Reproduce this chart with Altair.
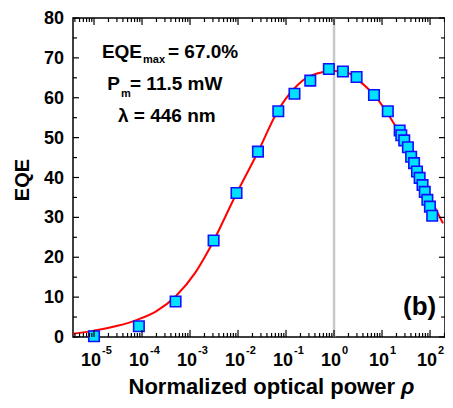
import altair as alt
import pandas as pd

# ---- data ----
rho_pts = [1.0e-5, 8.6e-5, 5.0e-4, 3.1e-3, 9.3e-3, 2.6e-2, 6.9e-2, 0.15, 0.32, 0.78,
           1.53, 2.95, 6.8, 13.2, 23.3, 25.2, 29.0, 34.6, 40.4, 46.5, 53.5, 60.7,
           69.8, 77.7, 88.0, 99.5, 111.0]
eqe_pts = [0.2, 2.7, 8.9, 24.2, 36.1, 46.5, 56.6, 61.0, 64.3, 67.2,
           66.6, 65.2, 60.7, 56.6, 51.8, 50.6, 49.3, 47.6, 45.2, 43.6, 41.5, 39.9,
           38.1, 36.4, 34.4, 32.7, 30.4]

curve_rho = [3.6e-6, 1.0e-5, 3.1e-5, 7.9e-5, 2.0e-4, 5.1e-4, 1.3e-3, 2.5e-3, 9.3e-3,
             2.6e-2, 6.8e-2, 0.145, 0.32, 1.0, 1.8, 3.3, 8.5, 15.8, 25.7, 47.9, 105, 186]
curve_eqe = [0.8, 1.6, 2.8, 4.3, 6.5, 10.3, 16.2, 22.0, 36.0,
             46.4, 56.8, 62.2, 65.5, 66.7, 66.4, 64.3, 59.3, 54.5, 50.3, 44.5, 34.5, 28.5]

x_major = [1e-5, 1e-4, 1e-3, 1e-2, 1e-1, 1e0, 1e1, 1e2]
x_exp = ["-5", "-4", "-3", "-2", "-1", "0", "1", "2"]
x_minor = [m * 10.0 ** k for k in range(-6, 3) for m in range(2, 10)]
y_major = [0, 10, 20, 30, 40, 50, 60, 70, 80]
y_minor = [5, 15, 25, 35, 45, 55, 65, 75]

X_DOM = [3.65e-6, 205]
Y_DOM = [0, 80]
x_minor = [v for v in x_minor if X_DOM[0] < v < X_DOM[1]]

W, H = 372, 319
FONT = "Liberation Sans"

xs = alt.Scale(type="log", domain=X_DOM, nice=False)
ys = alt.Scale(domain=Y_DOM, nice=False, zero=False)

pts = pd.DataFrame({"rho": rho_pts, "eqe": eqe_pts})
crv = pd.DataFrame({"rho": curve_rho, "eqe": curve_eqe})
xmaj = pd.DataFrame({"v": x_major, "e": x_exp, "b": ["10"] * len(x_major)})
xmin = pd.DataFrame({"v": x_minor})
ymaj = pd.DataFrame({"v": y_major, "t": [str(v) for v in y_major]})
ymin = pd.DataFrame({"v": y_minor})

vline = alt.Chart(pd.DataFrame({"r": [1.0], "a": [0], "b": [80]})).mark_rule(
    color="#c8c8c8", strokeWidth=2.5
).encode(
    x=alt.X("r:Q", scale=xs, axis=None),
    y=alt.Y("a:Q", scale=ys, axis=None),
    y2="b:Q",
)

line = alt.Chart(crv).mark_line(color="#ff0000", strokeWidth=2, interpolate="monotone",
                                clip=True).encode(
    x=alt.X("rho:Q", scale=xs, axis=None),
    y=alt.Y("eqe:Q", scale=ys, axis=None),
)

points = alt.Chart(pts).mark_point(
    shape="square", size=110, filled=True, fill="#00e0ff", stroke="#1010ff",
    strokeWidth=1.6, opacity=1
).encode(
    x=alt.X("rho:Q", scale=xs, axis=None),
    y=alt.Y("eqe:Q", scale=ys, axis=None),
)

def xticks(df, length):
    bot = alt.Chart(df).mark_rule(color="black", strokeWidth=1.2).encode(
        x=alt.X("v:Q", scale=xs, axis=None), y=alt.value(H), y2=alt.value(H - length))
    top = alt.Chart(df).mark_rule(color="black", strokeWidth=1.2).encode(
        x=alt.X("v:Q", scale=xs, axis=None), y=alt.value(0), y2=alt.value(length))
    return [bot, top]

def yticks(df, length):
    lft = alt.Chart(df).mark_rule(color="black", strokeWidth=1.2).encode(
        y=alt.Y("v:Q", scale=ys, axis=None), x=alt.value(0), x2=alt.value(length))
    rgt = alt.Chart(df).mark_rule(color="black", strokeWidth=1.2).encode(
        y=alt.Y("v:Q", scale=ys, axis=None), x=alt.value(W), x2=alt.value(W - length))
    return [lft, rgt]

ticks = xticks(xmaj, 7) + xticks(xmin, 4) + yticks(ymaj, 6) + yticks(ymin, 4)

# tick labels (x: 10 with superscript exponent)
xlab_base = alt.Chart(xmaj).mark_text(
    font=FONT, fontSize=18, fontWeight="bold", color="black", align="center",
    baseline="middle", dx=-3
).encode(x=alt.X("v:Q", scale=xs, axis=None), y=alt.value(H + 24), text="b:N")

xlab_exp = alt.Chart(xmaj).mark_text(
    font=FONT, fontSize=11, fontWeight="bold", color="black", align="left",
    baseline="middle", dx=8
).encode(x=alt.X("v:Q", scale=xs, axis=None), y=alt.value(H + 14), text="e:N")

ylab = alt.Chart(ymaj).mark_text(
    font=FONT, fontSize=18, fontWeight="bold", color="black", align="right",
    baseline="middle", dx=-9, dy=1
).encode(y=alt.Y("v:Q", scale=ys, axis=None), x=alt.value(0), text="t:N")

def note(txt, x, y, size=19, align="left", baseline="alphabetic", angle=0, style="normal"):
    return alt.Chart(pd.DataFrame({"t": [txt]})).mark_text(
        font=FONT, fontSize=size, fontWeight="bold", color="black",
        align=align, baseline=baseline, angle=angle, fontStyle=style
    ).encode(x=alt.value(x), y=alt.value(y), text="t:N")

titles = [
    note("EQE", -50, 162, size=20, align="center", baseline="middle", angle=270),
    note("Normalized optical power", 322, H + 57, size=22, align="right"),
    note("ρ", 328, H + 57, size=22, align="left", style="italic"),
]

notes = [
    note("EQE", 69, 40, align="right"),
    note("max", 70, 45, size=11),
    note("= 67.0%", 95, 40),
    note("P", 47, 72, align="right"),
    note("m", 48, 79, size=11),
    note("= 11.5 mW", 57, 72),
    note("λ = 446 nm", 45, 104),
    note("(b)", 330, 297, size=26),
]

chart = alt.layer(vline, line, points, *ticks, xlab_base, xlab_exp, ylab,
                  *titles, *notes).properties(
    width=W, height=H,
    autosize=alt.AutoSizeParams(type="none"),
    padding={"left": 65, "top": 10, "right": 0, "bottom": 62},
).configure_view(stroke="black", strokeWidth=1.5)

chart.save("out.html", embed_options={"renderer": "svg", "actions": False})
